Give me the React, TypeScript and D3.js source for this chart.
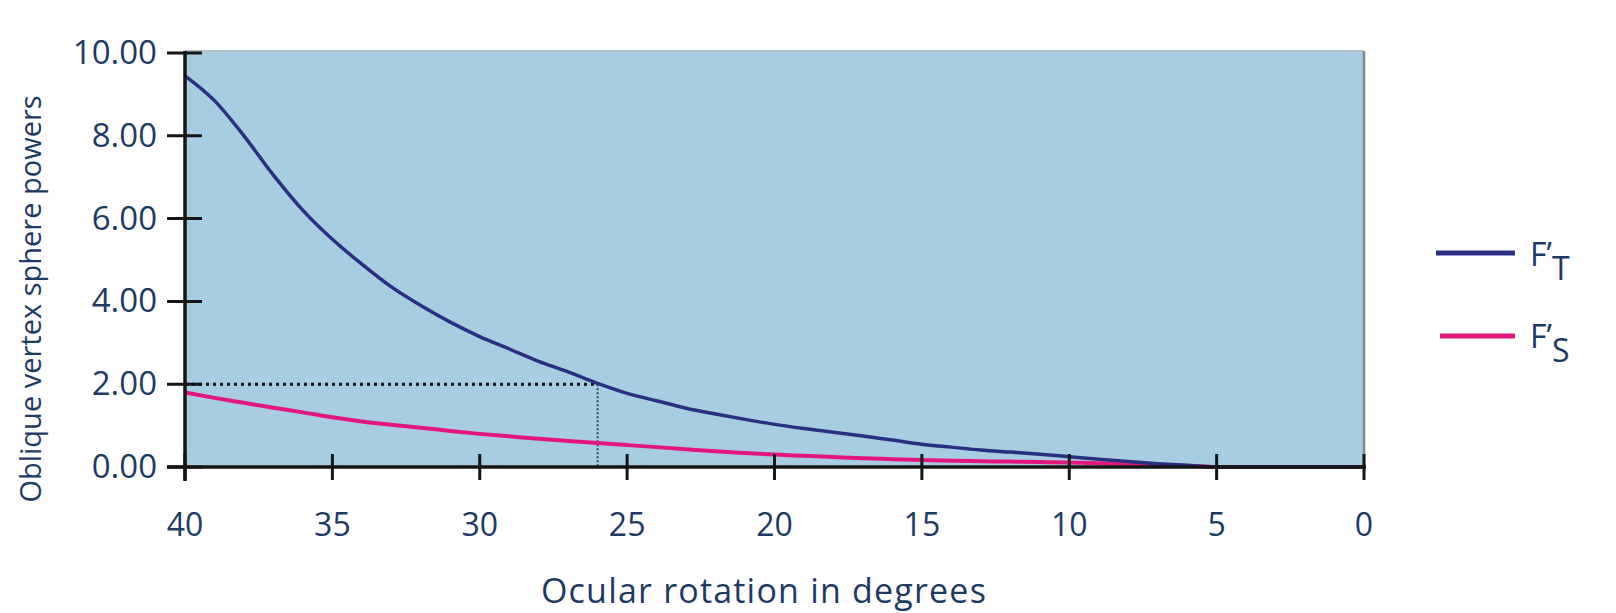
import React from "react";
import * as d3 from "d3";

const degrees = [40, 39, 38, 37, 36, 35, 34, 33, 32, 31, 30, 29, 28, 27, 26, 25, 24, 23, 22, 21, 20, 19, 18, 17, 16, 15, 14, 13, 12, 11, 10, 9, 8, 7, 6, 5, 4, 3, 2, 1, 0];
const fT = [9.45, 8.85, 8.0, 7.05, 6.2, 5.5, 4.9, 4.35, 3.9, 3.5, 3.15, 2.85, 2.55, 2.3, 2.02, 1.78, 1.6, 1.42, 1.28, 1.15, 1.03, 0.93, 0.84, 0.75, 0.65, 0.55, 0.48, 0.41, 0.36, 0.31, 0.25, 0.19, 0.13, 0.08, 0.04, 0.0, 0, 0, 0, 0, 0];
const fS = [1.8, 1.67, 1.55, 1.43, 1.32, 1.2, 1.1, 1.02, 0.95, 0.87, 0.8, 0.74, 0.68, 0.63, 0.58, 0.53, 0.48, 0.43, 0.38, 0.34, 0.3, 0.27, 0.24, 0.21, 0.19, 0.17, 0.15, 0.14, 0.13, 0.12, 0.11, 0.09, 0.07, 0.05, 0.03, 0.0, 0, 0, 0, 0, 0];
const xTicks = [40, 35, 30, 25, 20, 15, 10, 5, 0];
const yTicks = [0, 2, 4, 6, 8, 10];
const markerDegree = 26;
const markerValue = 2;

const W = 1616;
const H = 613;
const left = 185;
const right = 1364;
const top = 53;
const bottom = 467;

const textColor = "#1d3a63";
const font = "'Open Sans', 'Lato', sans-serif";

export default function App() {
  const x = d3.scaleLinear().domain([40, 0]).range([left, right]);
  const y = d3.scaleLinear().domain([0, 10]).range([bottom, top]);
  const line = d3
    .line<number>()
    .x((_, i) => x(degrees[i]))
    .y((v) => y(v))
    .curve(d3.curveMonotoneX);

  return (
    <svg width={W} height={H} style={{ position: "absolute", left: 0, top: 0, background: "#fff" }}>
      <rect x={left} y={y(10) - 2} width={right - left} height={bottom - y(10) + 2} fill="#a8cde0" />
      <line x1={left} x2={right} y1={y(10) - 2} y2={y(10) - 2} stroke="#b3bcc2" strokeWidth={2} />
      <line x1={right} x2={right} y1={y(10) - 2} y2={bottom} stroke="#7f8a90" strokeWidth={2.5} />

      {/* dotted reference lines */}
      <line x1={left} x2={x(markerDegree)} y1={y(markerValue)} y2={y(markerValue)} stroke="#111" strokeWidth={3} strokeDasharray="3 4" />
      <line x1={x(markerDegree)} x2={x(markerDegree)} y1={y(markerValue)} y2={bottom} stroke="#34495a" strokeWidth={2} strokeDasharray="2 2" />

      <path d={line(fS) || ""} fill="none" stroke="#e2177d" strokeWidth={4} />
      <path d={line(fT) || ""} fill="none" stroke="#2b2f84" strokeWidth={3.5} />

      {/* axes */}
      <line x1={left} x2={left} y1={top - 2} y2={bottom + 14} stroke="#151515" strokeWidth={3.5} />
      <line x1={left - 18} x2={right + 2} y1={bottom} y2={bottom} stroke="#151515" strokeWidth={3.5} />
      {yTicks.map((t) => (
        <g key={"y" + t}>
          <line x1={left - 18} x2={left + 17} y1={y(t)} y2={y(t)} stroke="#151515" strokeWidth={3} />
          <text x={157} y={y(t) + 11} textAnchor="end" fontFamily={font} fontSize={33} fill={textColor}>
            {t.toFixed(2)}
          </text>
        </g>
      ))}
      {xTicks.map((t) => (
        <g key={"x" + t}>
          <line x1={x(t)} x2={x(t)} y1={bottom - 13} y2={bottom + 13} stroke="#151515" strokeWidth={3} />
          <text x={x(t)} y={536} textAnchor="middle" fontFamily={font} fontSize={32} fill={textColor}>
            {t}
          </text>
        </g>
      ))}

      <text x={764} y={603} textAnchor="middle" fontFamily={font} fontSize={34} letterSpacing={1.2} fill={textColor}>
        Ocular rotation in degrees
      </text>
      <text
        transform={`translate(41, ${299}) rotate(-90)`}
        textAnchor="middle"
        fontFamily={font}
        fontSize={29}
        fill={textColor}
      >
        Oblique vertex sphere powers
      </text>

      {/* legend */}
      <line x1={1436} x2={1515} y1={253} y2={253} stroke="#2b2f84" strokeWidth={5} />
      <text x={1530} y={266} fontFamily={font} fontSize={32} fill={textColor}>
        F’<tspan dy={14}>T</tspan>
      </text>
      <line x1={1440} x2={1515} y1={336} y2={336} stroke="#e2177d" strokeWidth={5} />
      <text x={1530} y={348} fontFamily={font} fontSize={32} fill={textColor}>
        F’<tspan dy={14}>S</tspan>
      </text>
    </svg>
  );
}
